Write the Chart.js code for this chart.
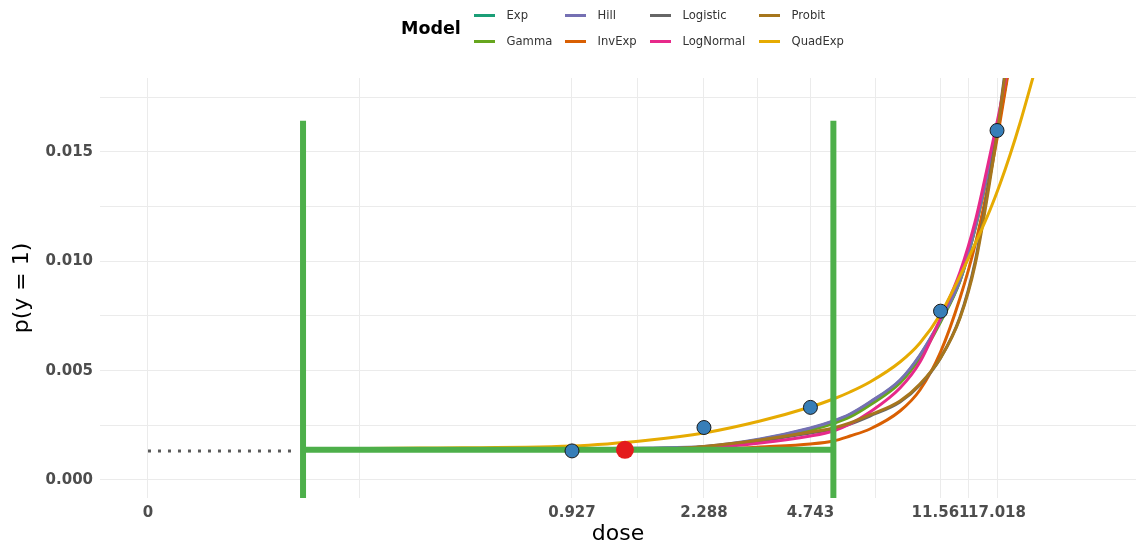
<!DOCTYPE html>
<html>
<head>
<meta charset="utf-8">
<title>Dose response</title>
<script src="https://cdn.jsdelivr.net/npm/chart.js@4"></script>
<style>
    body { margin: 0; background: #fff; font-family: "DejaVu Sans", sans-serif; }
    #wrap { position: relative; width: 1136px; height: 548px; }
    #chart { position: absolute; left: 0; top: 0; }
    #legend { position: absolute; left: 0; top: 0; width: 1136px; height: 60px; }
    .lg-title { position: absolute; left: 401px; top: 17px; font-weight: bold; font-size: 17.5px; color: #000; line-height: 22px; }
    .lg-key { position: absolute; width: 21px; height: 3px; }
    .lg-text { position: absolute; font-size: 11.6px; color: #333; line-height: 14px; white-space: nowrap; }
</style>
</head>
<body>
<div id="wrap">
    <canvas id="chart" width="1136" height="548"></canvas>
    <div id="legend"></div>
</div>
<script>
// --- data ---
const MODELS = ['Exp', 'Gamma', 'Hill', 'InvExp', 'Logistic', 'LogNormal', 'Probit', 'QuadExp'];
const COLORS = ['#1B9E77', '#66A61E', '#7570B3', '#D95F02', '#666666', '#E7298A', '#A6761D', '#E6AB02'];

// dose where the "0" tick sits on the log axis
const ZERO_AT = 0.05085;
const X_TICK_VALUES = [ZERO_AT, 0.927, 2.288, 4.743, 11.561, 17.018];
const X_TICK_LABELS = ['0', '0.927', '2.288', '4.743', '11.561', '17.018'];
const Y_GRID = [0, 0.0025, 0.005, 0.0075, 0.01, 0.0125, 0.015, 0.0175];
const Y_TICK_VALUES = [0, 0.005, 0.01, 0.015];
const Y_TICK_LABELS = ['0.000', '0.005', '0.010', '0.015'];

// observed data
const OBS_DOSE = [0.927, 2.288, 4.743, 11.561, 17.018];
const OBS_P = [0.00133, 0.0024, 0.00332, 0.00772, 0.01598];
const BMD_DOSE = 1.332;
const BMD_P = 0.00138;

// BMD interval
const BMDL = 0.147;
const BMDU = 5.55;
const BMR_LEVEL = 0.00138;
const BAND_TOP = 0.01642;
const BAND_BOTTOM = -0.002;

// background extension (dotted) from 0
const EXT_DOSE = [ZERO_AT, 0.138];
const EXT_P = [0.00133, 0.00133];

// model curves
const CURVE_DOSE = [0.147, 0.327, 0.927, 1.58, 2.288, 3.36, 4.743, 5.55, 6.22, 7.13, 8.76, 10.04, 11.56, 13.21, 14.64, 16.22, 17.37, 18.6, 19.92, 22.08];
const EXP_P       = [0.001372, 0.001372, 0.001395, 0.001440, 0.001509, 0.001852, 0.002355, 0.002675, 0.002995, 0.003544, 0.004549, 0.005693, 0.007293, 0.009122, 0.011500, 0.014517, 0.016621, 0.019273, 0.022154, 0.026955];
const GAMMA_P     = [0.001395, 0.001395, 0.001404, 0.001440, 0.001509, 0.001829, 0.002286, 0.002583, 0.002881, 0.003429, 0.004435, 0.005578, 0.007225, 0.009099, 0.011477, 0.014495, 0.016598, 0.019250, 0.022131, 0.026886];
const HILL_P      = [0.001395, 0.001395, 0.001417, 0.001463, 0.001532, 0.001875, 0.002378, 0.002698, 0.003018, 0.003567, 0.004572, 0.005716, 0.007316, 0.009145, 0.011523, 0.014540, 0.016644, 0.019296, 0.022177, 0.026978];
const INVEXP_P    = [0.001381, 0.001381, 0.001381, 0.001381, 0.001381, 0.001509, 0.001646, 0.001783, 0.002012, 0.002332, 0.003155, 0.004115, 0.005853, 0.008322, 0.010745, 0.013900, 0.016369, 0.019113, 0.022039, 0.026978];
const LOGISTIC_P  = [0.001395, 0.001395, 0.001395, 0.001408, 0.001509, 0.001783, 0.002149, 0.002332, 0.002561, 0.002926, 0.003567, 0.004344, 0.005578, 0.007453, 0.009968, 0.013900, 0.016918, 0.020393, 0.024234, 0.030407];
const LOGNORMAL_P = [0.001395, 0.001395, 0.001395, 0.001395, 0.001463, 0.001692, 0.002012, 0.002241, 0.002561, 0.003109, 0.004207, 0.005396, 0.007407, 0.009511, 0.011797, 0.014861, 0.017010, 0.019433, 0.022085, 0.026520];
const PROBIT_P    = [0.001395, 0.001395, 0.001395, 0.001395, 0.001532, 0.001829, 0.002195, 0.002378, 0.002606, 0.002972, 0.003612, 0.004390, 0.005578, 0.007407, 0.009831, 0.013717, 0.016781, 0.020210, 0.024005, 0.029950];
const QUADEXP_P   = [0.001417, 0.001463, 0.001555, 0.001829, 0.002149, 0.002698, 0.003338, 0.003704, 0.004024, 0.004481, 0.005395, 0.006264, 0.007590, 0.009328, 0.010791, 0.012346, 0.013534, 0.014860, 0.016324, 0.018747];
const CURVES = [EXP_P, GAMMA_P, HILL_P, INVEXP_P, LOGISTIC_P, LOGNORMAL_P, PROBIT_P, QUADEXP_P];
// ggplot draws later factor levels on top
const CURVE_ORDER = [9, 8, 7, 6, 5, 4, 3, 2];

// --- axis limits (log x) ---
const X_MIN = 0.03661;
const X_MAX = 44.07;
const Y_MIN = -0.000823;
const Y_MAX = 0.01838;

const zip = (xs, ys) => xs.map((x, i) => ({ x: x, y: ys[i] }));

// minor x grid halfway between majors on the log axis
const X_GRID = [];
X_TICK_VALUES.forEach((v, i) => {
    X_GRID.push(v);
    if (i < X_TICK_VALUES.length - 1) X_GRID.push(Math.sqrt(v * X_TICK_VALUES[i + 1]));
});

const datasets = [];

datasets.push({
    label: 'obs',
    data: zip(OBS_DOSE, OBS_P),
    pointRadius: 7,
    pointBackgroundColor: '#377EB8',
    pointBorderColor: '#1a1a1a',
    pointBorderWidth: 1,
    showLine: false,
    order: 0
});
datasets.push({
    label: 'bmd',
    data: [{ x: BMD_DOSE, y: BMD_P }],
    pointRadius: 9,
    pointBackgroundColor: '#E41A1C',
    pointBorderWidth: 0,
    showLine: false,
    order: 0
});

const greenLine = (pts) => ({
    data: pts,
    showLine: true,
    borderColor: '#4DAF4A',
    borderWidth: 6,
    borderCapStyle: 'butt',
    pointRadius: 0,
    clip: 0,
    order: 1
});
datasets.push(greenLine([{ x: BMDL, y: BAND_BOTTOM }, { x: BMDL, y: BAND_TOP }]));
datasets.push(greenLine([{ x: BMDU, y: BAND_BOTTOM }, { x: BMDU, y: BAND_TOP }]));
datasets.push(greenLine([{ x: BMDL, y: BMR_LEVEL }, { x: BMDU, y: BMR_LEVEL }]));

MODELS.forEach((m, i) => {
    datasets.push({
        label: m,
        data: zip(CURVE_DOSE, CURVES[i]),
        showLine: true,
        borderColor: COLORS[i],
        borderWidth: 3,
        pointRadius: 0,
        cubicInterpolationMode: 'monotone',
        clip: 0,
        order: CURVE_ORDER[i]
    });
});

datasets.push({
    label: 'ext',
    data: zip(EXT_DOSE, EXT_P),
    showLine: true,
    borderColor: '#5a5a5a',
    borderWidth: 3,
    borderDash: [3, 7],
    borderCapStyle: 'butt',
    pointRadius: 0,
    order: 10
});

const tickFont = { family: '"DejaVu Sans", sans-serif', size: 15, weight: 'bold' };
const titleFont = { family: '"DejaVu Sans", sans-serif', size: 22, weight: 'normal' };

new Chart(document.getElementById('chart').getContext('2d'), {
    type: 'scatter',
    data: { datasets: datasets },
    options: {
        responsive: false,
        animation: false,
        layout: { autoPadding: false, padding: { top: 78, left: 0, right: 0, bottom: 0 } },
        plugins: { legend: { display: false }, tooltip: { enabled: false } },
        scales: {
            x: {
                type: 'logarithmic',
                min: X_MIN,
                max: X_MAX,
                afterBuildTicks: (s) => { s.ticks = X_GRID.map(v => ({ value: v })); },
                afterFit: (s) => { s.height = 50; s.paddingLeft = 0; s.paddingRight = 0; },
                grid: { color: '#EBEBEB', lineWidth: 1, drawTicks: false },
                border: { display: false },
                ticks: {
                    autoSkip: false,
                    maxRotation: 0,
                    padding: 6,
                    color: '#4D4D4D',
                    font: tickFont,
                    callback: (value) => {
                        const i = X_TICK_VALUES.indexOf(value);
                        return i >= 0 ? X_TICK_LABELS[i] : '';
                    }
                },
                title: { display: true, text: 'dose', color: '#000', font: titleFont, padding: { top: 0, bottom: 1 } }
            },
            y: {
                min: Y_MIN,
                max: Y_MAX,
                afterBuildTicks: (s) => { s.ticks = Y_GRID.map(v => ({ value: v })); },
                afterFit: (s) => { s.width = 100; s.paddingTop = 0; s.paddingBottom = 0; },
                grid: { color: '#EBEBEB', lineWidth: 1, drawTicks: false },
                border: { display: false },
                ticks: {
                    autoSkip: false,
                    padding: 7,
                    color: '#4D4D4D',
                    font: tickFont,
                    callback: (value) => {
                        const i = Y_TICK_VALUES.indexOf(value);
                        return i >= 0 ? Y_TICK_LABELS[i] : '';
                    }
                },
                title: { display: true, text: 'p(y = 1)', color: '#000', font: titleFont, padding: { top: 9, bottom: 0 } }
            }
        }
    }
});

// legend, 2 rows filled column by column
const KEY_X = [474, 565, 650, 759];
const ROW_Y = [15, 41];
const legend = document.getElementById('legend');
const title = document.createElement('div');
title.className = 'lg-title';
title.textContent = 'Model';
legend.appendChild(title);
MODELS.forEach((m, i) => {
    const col = Math.floor(i / 2), row = i % 2;
    const key = document.createElement('div');
    key.className = 'lg-key';
    key.style.left = KEY_X[col] + 'px';
    key.style.top = (ROW_Y[row] - 1.5) + 'px';
    key.style.background = COLORS[i];
    legend.appendChild(key);
    const txt = document.createElement('div');
    txt.className = 'lg-text';
    txt.style.left = (KEY_X[col] + 32.5) + 'px';
    txt.style.top = (ROW_Y[row] - 7) + 'px';
    txt.textContent = m;
    legend.appendChild(txt);
});
</script>
</body>
</html>
